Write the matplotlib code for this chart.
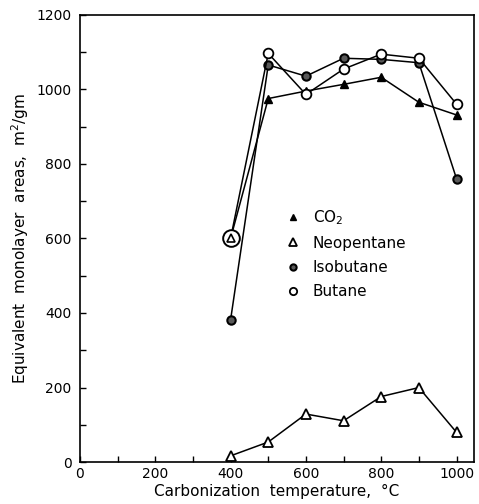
import matplotlib
matplotlib.use("Agg")
import matplotlib.pyplot as plt
from matplotlib.ticker import MultipleLocator

temps = [400, 500, 600, 700, 800, 900, 1000]
co2 = [600, 975, 995, 1013, 1032, 965, 931]
neopentane = [17, 54, 129, 111, 176, 200, 80]
isobutane = [382, 1065, 1035, 1083, 1080, 1071, 760]
butane = [600, 1096, 986, 1054, 1094, 1083, 960]

xticks = [0, 200, 400, 600, 800, 1000]
yticks = [0, 200, 400, 600, 800, 1000, 1200]

plt.rcParams['font.family'] = ['DejaVu Sans']
fig = plt.figure(figsize=(4.79, 5.04), dpi=100)
ax = fig.add_axes([0.167, 0.083, 0.823, 0.888])

lw = 1.1
ms = 6
ax.plot(temps, co2, color='black', lw=lw, marker='^', ms=ms, mfc='black', mec='black', label='CO$_2$')
ax.plot(temps, neopentane, color='black', lw=lw, marker='^', ms=ms+1, mfc='white', mec='black', mew=1.3, label='Neopentane')
ax.plot(temps, isobutane, color='black', lw=lw, marker='o', ms=ms, mfc='0.35', mec='black', mew=1.5, label='Isobutane')
ax.plot(temps, butane, color='black', lw=lw, marker='o', ms=ms+1, mfc='white', mec='black', mew=1.3, label='Butane')
# circled common point at 400
ax.plot([temps[0]], [butane[0]], marker='o', ms=12, mfc='white', mec='black', mew=1.4, zorder=5)
ax.plot([temps[0]], [co2[0]], marker='^', ms=6, mfc='white', mec='black', mew=1.2, zorder=6)

ax.set_xlim(0, 1047)
ax.set_ylim(0, 1200)
ax.set_xticks(xticks)
ax.set_yticks(yticks)
ax.xaxis.set_minor_locator(MultipleLocator(100))
ax.yaxis.set_minor_locator(MultipleLocator(100))
ax.tick_params(which='both', direction='in', length=4, width=1, labelsize=10)
ax.tick_params(axis='y', pad=6)
for s in ax.spines.values():
    s.set_linewidth(1.2)

ax.set_xlabel('Carbonization  temperature,  °C', fontsize=11, labelpad=2)
ax.set_ylabel('Equivalent  monolayer  areas,  m$^2$/gm', fontsize=11, labelpad=4)

leg = ax.legend(loc='upper left', bbox_to_anchor=(0.525, 0.568), frameon=False,
                borderaxespad=0, borderpad=0,
                handlelength=0.8, handletextpad=0.9, labelspacing=0.6, fontsize=11,
                markerscale=0.75)
for h in leg.legend_handles:
    h.set_linestyle('None')

fig.savefig('out.png', dpi=100)
